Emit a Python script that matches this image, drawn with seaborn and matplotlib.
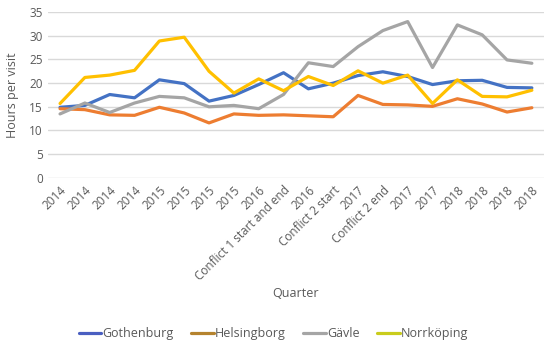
import pandas as pd
import matplotlib.pyplot as plt
import seaborn as sns
from matplotlib.lines import Line2D

# Quarter labels along the x axis (duplicates are intentional)
quarters = ['2014', '2014', '2014', '2014', '2015', '2015', '2015', '2015',
            '2016', 'Conflict 1 start and end', '2016', 'Conflict 2 start',
            '2017', 'Conflict 2 end', '2017', '2017', '2018', '2018', '2018', '2018']

# Hours per visit
gothenburg = [14.9, 15.3, 17.6, 16.9, 20.7, 19.9, 16.2, 17.4, 19.7, 22.2,
              18.8, 20.0, 21.6, 22.4, 21.4, 19.7, 20.5, 20.6, 19.1, 19.0]
helsingborg = [14.6, 14.4, 13.3, 13.2, 14.9, 13.7, 11.6, 13.5, 13.2, 13.3,
               13.1, 12.9, 17.4, 15.5, 15.4, 15.1, 16.7, 15.6, 13.9, 14.8]
gavle = [13.5, 15.8, 13.8, 15.8, 17.2, 16.9, 15.0, 15.3, 14.6, 17.6,
         24.3, 23.5, 27.7, 31.1, 33.0, 23.3, 32.3, 30.2, 24.9, 24.2]
norrkoping = [15.7, 21.2, 21.7, 22.7, 28.9, 29.7, 22.5, 17.9, 20.9, 18.4,
              21.4, 19.5, 22.6, 20.0, 21.7, 15.7, 20.7, 17.2, 17.1, 18.5]

cities = ['Gothenburg', 'Helsingborg', 'Gävle', 'Norrköping']
line_colors = ['#4472C4', '#ED7D31', '#A5A5A5', '#FFC000']
legend_colors = ['#4a5fc1', '#b5832e', '#a5a5a5', '#c9cc1c']

rows = []
for city, vals in zip(cities, [gothenburg, helsingborg, gavle, norrkoping]):
    for i, v in enumerate(vals):
        rows.append({'pos': i, 'Quarter': quarters[i], 'City': city, 'Hours': v})
df = pd.DataFrame(rows)

sns.set_style('white')
plt.rcParams['font.family'] = ['Open Sans', 'DejaVu Sans']
text_color = '#595959'

fig = plt.figure(figsize=(5.5, 3.46), dpi=100)
ax = fig.add_axes([0.0866, 0.486, 0.903, 0.479])

sns.lineplot(data=df, x='pos', y='Hours', hue='City', palette=line_colors,
             hue_order=cities, linewidth=2.3, sort=False, legend=False, ax=ax)

ax.set_xlim(-0.5, len(quarters) - 0.5)
ax.set_ylim(0, 35)
ax.set_yticks(range(0, 36, 5))
ax.set_xticks(range(len(quarters)))
ax.set_xticklabels(quarters, rotation=45, ha='right', rotation_mode='anchor')
ax.tick_params(axis='both', length=0, colors=text_color, labelsize=8.5)
ax.tick_params(axis='x', pad=4)
ax.grid(axis='y', color='#d9d9d9', linewidth=1)
ax.set_axisbelow(True)
for s in ax.spines.values():
    s.set_visible(False)

ax.set_xlabel('Quarter', color=text_color, fontsize=9)
ax.xaxis.set_label_coords(0.5, -0.66)
ax.set_ylabel('Hours per visit', color=text_color, fontsize=9)
ax.yaxis.set_label_coords(-0.058, 0.5)

handles = [Line2D([0], [0], color=c, lw=2.3) for c in legend_colors]
fig.legend(handles, cities, loc='center', bbox_to_anchor=(0.497, 0.035), ncol=4,
           frameon=False, fontsize=9, labelcolor=text_color,
           handlelength=1.8, handletextpad=0.1, columnspacing=1.4)

fig.savefig('out.png', dpi=100)
